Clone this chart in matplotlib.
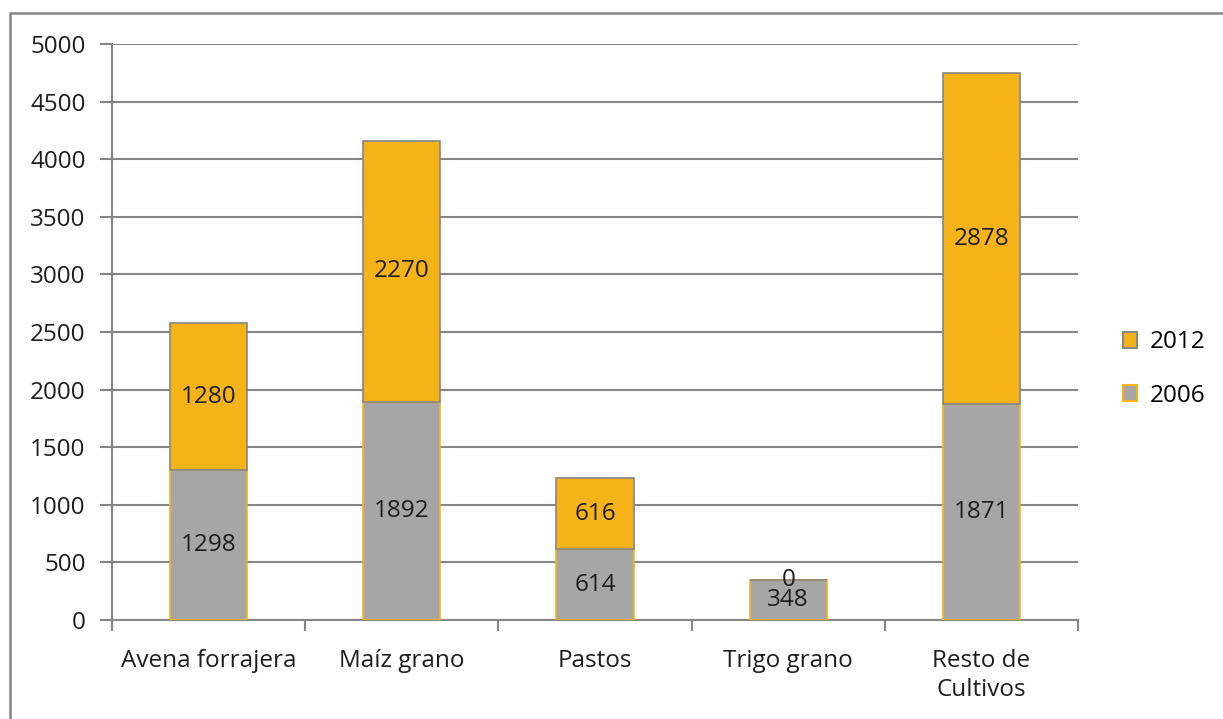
import numpy as np
import matplotlib.pyplot as plt
from matplotlib.patches import Rectangle, Patch

# Data
categorias = ["Avena forrajera", "Maíz grano", "Pastos", "Trigo grano", "Resto de\nCultivos"]
valores_2006 = [1298, 1892, 614, 348, 1871]
valores_2012 = [1280, 2270, 616, 0, 2878]

naranja = "#F5B317"
gris = "#A6A6A6"
linea = "#868686"
texto = "#1E1E1E"

plt.rcParams['font.family'] = ['Open Sans', 'DejaVu Sans']

fig = plt.figure(figsize=(12.23, 7.19), dpi=100)
ax = fig.add_axes([112/1223, 1 - 620/719, (1078 - 112)/1223, (620 - 44)/719])

x = np.arange(len(categorias))
w = 0.40
b1 = ax.bar(x, valores_2006, w, color=gris, edgecolor=naranja, linewidth=1.2, zorder=3)
b2 = ax.bar(x, valores_2012, w, bottom=valores_2006, color=naranja, edgecolor=linea,
            linewidth=1.2, zorder=3)

ax.bar_label(b1, label_type='center', fontsize=17.5, color=texto)
ax.bar_label(b2, label_type='center', fontsize=17.5, color=texto)

ax.set_xlim(-0.5, len(categorias) - 0.5)
ax.set_ylim(0, 5000)
ax.set_yticks(np.arange(0, 5001, 500))
ax.yaxis.grid(True, color=linea, linewidth=1.5, zorder=0)
ax.set_axisbelow(True)

ax.set_xticks(x)
ax.set_xticklabels(categorias, fontsize=17.5, color=texto, linespacing=1.25)
ax.set_xticks(np.arange(-0.5, len(categorias), 1.0), minor=True)
ax.tick_params(axis='x', which='major', length=0, pad=21)
ax.tick_params(axis='x', which='minor', length=8, width=1.5, color=linea)
ax.tick_params(axis='y', length=9, width=1.5, color=linea, labelsize=17.5,
               labelcolor=texto, pad=10)

for s in ['top', 'right']:
    ax.spines[s].set_visible(False)
for s in ['left', 'bottom']:
    ax.spines[s].set_color(linea)
    ax.spines[s].set_linewidth(1.5)

# Legend (2012 above 2006)
handles = [Patch(facecolor=naranja, edgecolor=linea, linewidth=1.5),
           Patch(facecolor=gris, edgecolor=naranja, linewidth=1.5)]
fig.legend(handles, ["2012", "2006"], loc='center left',
           bbox_to_anchor=(1101/1223, 1 - 369/719), frameon=False,
           fontsize=17.5, handlelength=0.6, handleheight=0.6,
           labelspacing=1.2, handletextpad=0.5)

# Outer frame
fig.patches.append(Rectangle((10/1223, -0.1), 1.2, 1 - 13/719 + 0.1,
                             transform=fig.transFigure, fill=False,
                             edgecolor=linea, linewidth=1.8))

plt.savefig("out.png", dpi=100)
